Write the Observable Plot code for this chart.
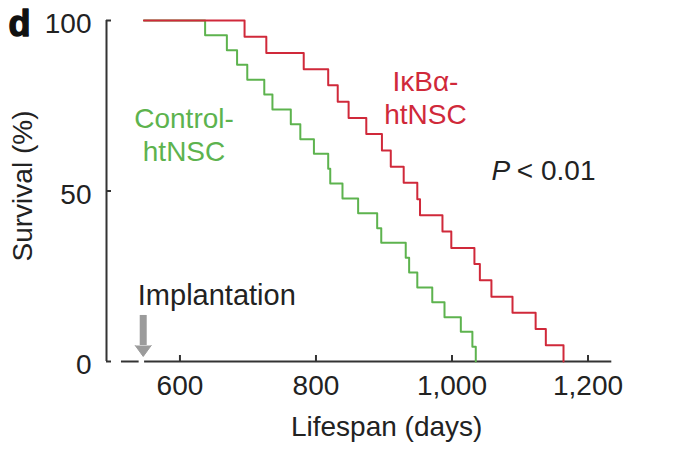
<!DOCTYPE html>
<html><head><meta charset="utf-8">
<script src="https://cdn.jsdelivr.net/npm/d3@7"></script>
<script src="https://cdn.jsdelivr.net/npm/@observablehq/plot@0.6"></script>
<style>html,body{margin:0;padding:0;background:#fff} svg{display:block}</style>
</head><body><div id="chart"></div>
<script>
// ---- data ----
const xTicks = [600, 800, 1000, 1200];
const yTicks = [0, 50, 100];
const controlDays = [547, 637, 669, 684, 699, 724, 736, 763, 777, 797, 818, 821, 839, 862, 890, 896, 932, 937, 949, 971, 989, 1013, 1030, 1035];
const controlSurvival = [100, 95.7, 91.3, 87.0, 82.6, 78.3, 73.9, 69.6, 65.2, 60.9, 56.5, 52.2, 47.8, 43.5, 39.1, 34.8, 30.4, 26.1, 21.7, 17.4, 13.0, 8.7, 4.3, 0];
const ikbaDays = [547, 695, 727, 782, 818, 832, 848, 874, 897, 910, 929, 949, 953, 986, 999, 1033, 1041, 1058, 1089, 1123, 1138, 1164];
const ikbaSurvival = [100, 95.2, 90.5, 85.7, 81.0, 76.2, 71.4, 66.7, 61.9, 57.1, 52.4, 47.6, 42.9, 38.1, 33.3, 28.6, 23.8, 19.0, 14.3, 9.5, 4.8, 0];
const implantationDay = 546;
const xDomain = [492, 1235];
const xAxisSegments = [[514, 540], [548, 1235]];

const green = "#5db34e";
const red = "#d0293a";
const ink = "#222";
const font = "'Liberation Sans', Arial, Helvetica, sans-serif";

const control = controlDays.map((d, i) => ({day: d, surv: controlSurvival[i]}));
const ikba = ikbaDays.map((d, i) => ({day: d, surv: ikbaSurvival[i]}));

const chart = Plot.plot({
  width: 673,
  height: 452,
  marginLeft: 106,
  marginRight: 61.7,
  marginTop: 20,
  marginBottom: 91,
  style: {fontFamily: font, fontSize: "28px", color: ink, background: "white"},
  x: {domain: xDomain},
  y: {domain: [0, 100]},
  marks: [
    Plot.axisX({ticks: xTicks, tickSize: 0, tickPadding: 14, tickFormat: d3.format(","), label: null, fontSize: 28, fill: ink}),
    Plot.axisY({ticks: yTicks, tickSize: 0, tickPadding: 15, label: null, fontSize: 28, dy: 4, fill: ink}),
    // axis lines and inward ticks
    Plot.ruleX([xDomain[0]], {x: d => d, y1: 0, y2: 100, stroke: "#333", strokeWidth: 2}),
    Plot.ruleY(yTicks, {y: d => d, x1: xDomain[0], x2: xDomain[0], insetRight: -5, stroke: "#333", strokeWidth: 2}),
    Plot.ruleY(xAxisSegments, {y: 0, x1: d => d[0], x2: d => d[1], stroke: "#333", strokeWidth: 2}),
    Plot.ruleX(xTicks, {x: d => d, y1: 0, y2: 0, insetBottom: 6, stroke: "#333", strokeWidth: 2}),
    // implantation arrow
    Plot.ruleX([implantationDay], {x: d => d, y1: 4.7, y2: 13.5, stroke: "#9b9b9b", strokeWidth: 7}),
    Plot.vector([implantationDay], {x: d => d, y: 4.7, length: 11, rotate: 180, shape: "spike", r: 8, anchor: "start", fill: "#9b9b9b", stroke: "#9b9b9b", strokeWidth: 1}),
    Plot.text(["Implantation"], {text: d => d, x: 538, y: 19.2, textAnchor: "start", lineAnchor: "middle", fontSize: 29, fill: ink}),
    // survival curves
    Plot.line(control, {x: "day", y: "surv", curve: "step-after", stroke: green, strokeWidth: 2}),
    Plot.line(ikba, {x: "day", y: "surv", curve: "step-after", stroke: red, strokeWidth: 2}),
    // labels
    Plot.text(["Control-\nhtNSC"], {text: d => d, x: 606, y: 66.8, textAnchor: "middle", lineAnchor: "middle", lineHeight: 1.2, fontSize: 28, fill: green}),
    Plot.text(["IκBα-\nhtNSC"], {text: d => d, x: 961, y: 77.6, textAnchor: "middle", lineAnchor: "middle", lineHeight: 1.17, fontSize: 28, fill: red}),
    Plot.text(["P"], {text: d => d, x: 1058, y: 55.8, textAnchor: "start", lineAnchor: "middle", fontStyle: "italic", fontSize: 28, fill: ink}),
    Plot.text(["< 0.01"], {text: d => d, x: 1211, y: 55.8, textAnchor: "end", lineAnchor: "middle", fontSize: 28, fill: ink}),
    // axis titles and panel letter
    Plot.text(["Survival (%)"], {text: d => d, frameAnchor: "left", rotate: -90, dx: -83, dy: -5, textAnchor: "middle", lineAnchor: "middle", fontSize: 28, fill: ink}),
    Plot.text(["Lifespan (days)"], {text: d => d, x: 904, frameAnchor: "bottom", dy: 65.5, textAnchor: "middle", lineAnchor: "middle", fontSize: 28, fill: ink}),
    Plot.text(["d"], {text: d => d, frameAnchor: "top-left", dx: -98, dy: 4, textAnchor: "start", lineAnchor: "middle", fontWeight: "bold", fontSize: 36, fill: "#111", stroke: "#111", strokeWidth: 1.4})
  ]
});
document.getElementById("chart").appendChild(chart);
</script>
</body></html>
